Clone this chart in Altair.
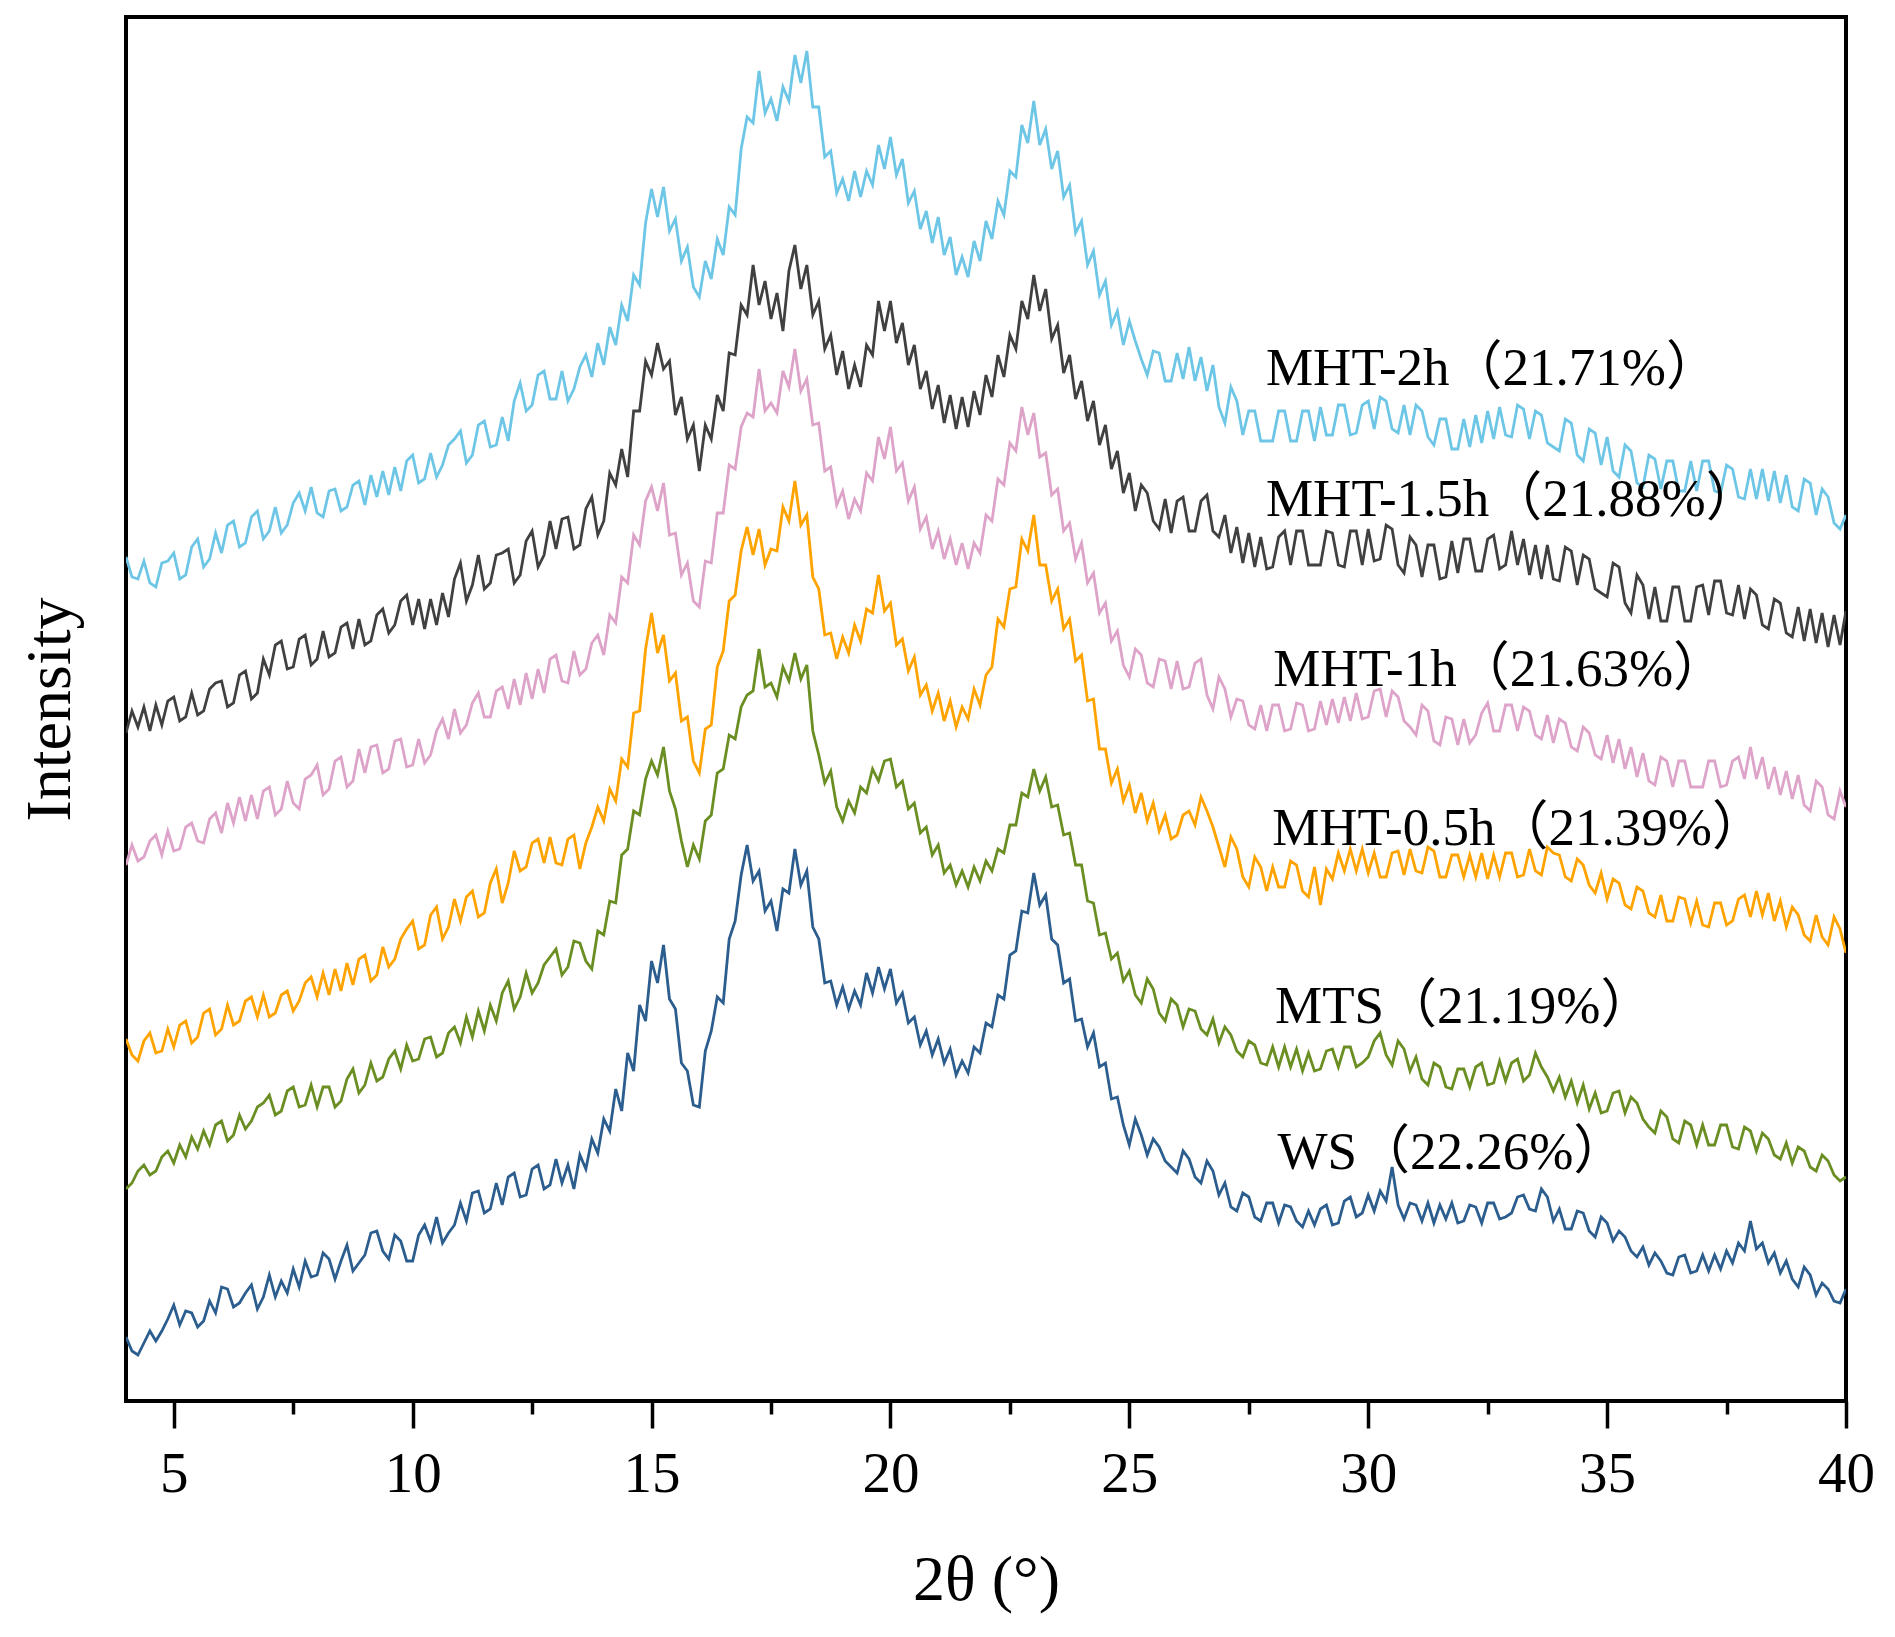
import altair as alt
import numpy as np
import pandas as pd

samples = ["WS", "MTS", "MHT-0.5h", "MHT-1h", "MHT-1.5h", "MHT-2h"]
crystallinity = ["22.26%", "21.19%", "21.39%", "21.63%", "21.88%", "21.71%"]
colors = ["#2b5d8e", "#6a8e22", "#ffa300", "#dda3c9", "#404040", "#6ec6e6"]
label_theta = [28.1, 28.05, 27.99, 28.01, 27.86, 27.86]
label_intensity = [232, 378, 556, 715, 885, 1016]
x_ticks = [5, 7.5, 10, 12.5, 15, 17.5, 20, 22.5, 25, 27.5, 30, 32.5, 35, 37.5, 40]

# intensities sampled every 0.125 deg from 4 to 40 (arbitrary units), one row per degree
ws = [
    64, 50, 46, 58, 70, 60, 70, 82,
    96, 76, 90, 88, 74, 80, 100, 88,
    114, 112, 94, 98, 108, 116, 92, 104,
    126, 104, 120, 108, 132, 114, 140, 124,
    126, 148, 142, 122, 140, 156, 130, 138,
    146, 168, 170, 150, 142, 166, 160, 140,
    140, 166, 176, 160, 184, 158, 168, 176,
    198, 180, 208, 210, 188, 192, 218, 196,
    224, 228, 204, 206, 232, 236, 212, 216,
    242, 218, 236, 212, 246, 232, 262, 248,
    282, 270, 312, 290, 348, 330, 396, 380,
    440, 418, 456, 402, 392, 338, 330, 296,
    294, 350, 370, 404, 398, 462, 480, 526,
    556, 520, 530, 490, 500, 470, 512, 508,
    552, 516, 530, 474, 462, 418, 420, 396,
    414, 392, 410, 396, 428, 408, 434, 412,
    432, 398, 408, 378, 384, 356, 370, 346,
    362, 338, 352, 326, 340, 328, 354, 348,
    378, 374, 406, 402, 446, 450, 490, 488,
    528, 496, 506, 462, 456, 418, 422, 380,
    382, 354, 368, 334, 338, 302, 304, 276,
    256, 282, 266, 246, 262, 254, 240, 234,
    228, 250, 242, 224, 218, 240, 230, 206,
    218, 194, 190, 208, 204, 184, 180, 198,
    198, 178, 196, 194, 180, 174, 190, 176,
    192, 196, 176, 178, 200, 204, 184, 188,
    206, 190, 210, 200, 234, 196, 182, 198,
    196, 180, 198, 178, 196, 182, 198, 178,
    180, 196, 194, 178, 198, 198, 182, 184,
    188, 204, 206, 192, 190, 212, 204, 180,
    192, 172, 172, 190, 188, 170, 164, 184,
    178, 160, 170, 164, 150, 144, 154, 136,
    148, 140, 128, 126, 144, 146, 128, 130,
    146, 130, 146, 132, 150, 138, 158, 150,
    180, 152, 158, 138, 148, 128, 140, 122,
    114, 134, 126, 106, 118, 112, 100, 98,
    112,
]
mts = [
    212, 218, 230, 236, 226, 230, 244, 250,
    238, 256, 244, 264, 252, 270, 256, 276,
    280, 260, 266, 286, 272, 280, 294, 298,
    306, 286, 290, 310, 314, 294, 296, 316,
    294, 314, 314, 294, 300, 322, 332, 308,
    316, 338, 320, 324, 342, 350, 332, 356,
    340, 342, 362, 364, 344, 348, 368, 374,
    358, 384, 364, 390, 370, 396, 380, 408,
    420, 392, 404, 428, 408, 418, 436, 444,
    452, 426, 434, 460, 458, 440, 432, 470,
    466, 500, 498, 546, 552, 590, 586, 622,
    640, 626, 654, 610, 592, 560, 534, 556,
    542, 580, 586, 628, 632, 666, 662, 694,
    706, 710, 752, 714, 718, 704, 734, 720,
    748, 722, 736, 670, 646, 618, 630, 594,
    580, 600, 588, 614, 608, 632, 620, 640,
    642, 614, 620, 592, 598, 568, 574, 546,
    556, 528, 536, 516, 530, 514, 534, 520,
    540, 530, 552, 548, 576, 576, 608, 604,
    632, 610, 624, 594, 596, 566, 568, 536,
    536, 500, 498, 466, 468, 442, 448, 420,
    430, 406, 398, 422, 412, 388, 380, 402,
    396, 374, 392, 390, 372, 366, 382, 358,
    374, 366, 350, 344, 360, 356, 338, 336,
    354, 334, 354, 334, 352, 330, 348, 330,
    332, 350, 352, 334, 354, 354, 334, 338,
    344, 360, 368, 346, 336, 360, 352, 330,
    344, 322, 316, 338, 334, 314, 312, 332,
    332, 314, 334, 338, 316, 318, 340, 320,
    338, 342, 320, 326, 348, 334, 324, 310,
    324, 304, 320, 298, 316, 292, 308, 288,
    290, 308, 310, 288, 304, 298, 282, 274,
    268, 290, 284, 262, 258, 280, 276, 256,
    276, 256, 256, 276, 276, 254, 252, 274,
    270, 250, 268, 262, 246, 242, 258, 238,
    254, 250, 234, 230, 246, 240, 226, 220,
    224,
]
mht05 = [
    362, 346, 340, 360, 368, 348, 350, 372,
    354, 376, 380, 358, 364, 388, 392, 366,
    372, 396, 376, 380, 400, 404, 384, 406,
    384, 388, 406, 410, 390, 400, 418, 424,
    404, 428, 406, 432, 410, 438, 416, 442,
    446, 420, 426, 454, 434, 442, 462, 472,
    480, 452, 456, 486, 494, 462, 474, 502,
    480, 504, 510, 484, 488, 518, 532, 498,
    518, 550, 530, 534, 558, 562, 538, 564,
    538, 536, 562, 566, 532, 558, 574, 594,
    580, 612, 600, 642, 634, 688, 690, 752,
    788, 748, 766, 720, 728, 680, 684, 640,
    628, 672, 676, 734, 750, 800, 806, 850,
    874, 846, 872, 836, 852, 850, 894, 880,
    920, 876, 886, 824, 812, 766, 768, 742,
    764, 748, 776, 760, 792, 788, 826, 790,
    798, 756, 762, 730, 744, 706, 716, 690,
    708, 680, 700, 674, 694, 682, 712, 696,
    726, 734, 782, 774, 812, 814, 862, 850,
    886, 836, 836, 800, 812, 772, 782, 740,
    746, 700, 702, 652, 652, 618, 632, 600,
    616, 588, 608, 580, 598, 570, 586, 562,
    566, 586, 590, 576, 604, 590, 574, 554,
    534, 564, 552, 524, 514, 544, 534, 510,
    534, 514, 514, 540, 536, 510, 504, 534,
    496, 532, 522, 548, 530, 552, 530, 552,
    528, 548, 524, 524, 548, 550, 526, 552,
    530, 528, 554, 550, 524, 524, 546, 546,
    524, 546, 524, 548, 522, 546, 524, 548,
    548, 524, 526, 552, 530, 526, 554, 548,
    546, 524, 520, 542, 536, 516, 508, 528,
    502, 522, 518, 496, 492, 514, 510, 488,
    484, 506, 480, 480, 504, 502, 478, 500,
    476, 474, 498, 498, 476, 480, 502, 506,
    484, 510, 486, 508, 480, 500, 474, 494,
    486, 466, 460, 486, 464, 456, 484, 472,
    448,
]
mht1 = [
    536, 556, 540, 544, 560, 566, 546, 570,
    550, 552, 574, 578, 560, 558, 582, 588,
    568, 598, 578, 604, 580, 606, 582, 610,
    614, 586, 592, 620, 598, 592, 622, 626,
    636, 606, 612, 640, 644, 614, 620, 652,
    628, 654, 656, 628, 632, 660, 662, 634,
    636, 662, 638, 646, 670, 682, 662, 692,
    668, 676, 698, 708, 684, 684, 710, 714,
    692, 722, 696, 728, 702, 732, 708, 742,
    746, 720, 718, 750, 726, 732, 758, 766,
    746, 786, 778, 824, 818, 866, 856, 900,
    914, 890, 918, 866, 868, 826, 838, 800,
    794, 840, 838, 888, 888, 936, 932, 974,
    988, 984, 1032, 990, 998, 988, 1030, 1014,
    1052, 1010, 1022, 976, 978, 930, 934, 896,
    910, 882, 902, 890, 928, 920, 964, 942,
    974, 930, 938, 900, 914, 872, 884, 852,
    870, 842, 862, 836, 858, 832, 858, 848,
    886, 880, 922, 916, 958, 950, 994, 966,
    988, 944, 948, 906, 912, 870, 878, 842,
    858, 818, 828, 788, 798, 760, 770, 736,
    724, 752, 746, 718, 714, 742, 740, 712,
    740, 712, 714, 738, 742, 706, 692, 724,
    712, 684, 702, 700, 676, 672, 696, 670,
    696, 696, 670, 672, 698, 696, 670, 672,
    700, 676, 702, 678, 704, 680, 708, 682,
    684, 710, 712, 684, 710, 704, 680, 674,
    666, 696, 690, 660, 656, 684, 682, 656,
    682, 658, 666, 688, 698, 670, 670, 696,
    696, 670, 694, 690, 666, 662, 686, 658,
    682, 678, 654, 650, 674, 668, 646, 642,
    666, 638, 662, 632, 654, 624, 648, 620,
    616, 644, 640, 614, 640, 640, 614, 614,
    614, 640, 640, 614, 616, 640, 644, 622,
    654, 622, 644, 612, 634, 606, 630, 602,
    626, 596, 590, 620, 614, 586, 582, 610,
    594,
]
mht15 = [
    668, 690, 674, 694, 670, 696, 676, 700,
    704, 680, 684, 708, 686, 690, 712, 718,
    720, 694, 698, 726, 730, 702, 708, 742,
    726, 756, 760, 732, 734, 762, 766, 736,
    742, 770, 744, 748, 774, 778, 752, 782,
    756, 760, 786, 792, 768, 776, 800, 806,
    776, 802, 772, 802, 776, 808, 784, 822,
    838, 800, 816, 846, 812, 818, 846, 848,
    852, 818, 826, 860, 870, 834, 846, 880,
    852, 882, 884, 852, 856, 892, 904, 866,
    880, 928, 916, 952, 924, 990, 990, 1040,
    1026, 1058, 1032, 1040, 986, 1004, 962, 976,
    930, 976, 962, 1006, 990, 1048, 1046, 1096,
    1086, 1136, 1096, 1120, 1082, 1108, 1070, 1130,
    1156, 1112, 1136, 1086, 1100, 1052, 1066, 1026,
    1050, 1012, 1036, 1014, 1056, 1046, 1100, 1070,
    1100, 1058, 1078, 1036, 1056, 1012, 1030, 992,
    1016, 978, 1006, 972, 1004, 974, 1010, 986,
    1026, 1004, 1046, 1024, 1066, 1052, 1100, 1082,
    1126, 1090, 1112, 1062, 1076, 1028, 1046, 1002,
    1020, 980, 1000, 956, 976, 932, 950, 908,
    928, 890, 916, 908, 880, 872, 902, 868,
    900, 904, 870, 870, 900, 906, 870, 864,
    886, 848, 874, 838, 868, 834, 864, 832,
    834, 864, 870, 836, 870, 870, 836, 836,
    836, 870, 868, 836, 834, 870, 870, 836,
    872, 840, 842, 876, 872, 836, 828, 864,
    856, 824, 856, 856, 822, 824, 860, 828,
    862, 862, 830, 830, 862, 866, 832, 836,
    870, 836, 862, 826, 856, 822, 856, 822,
    820, 854, 850, 816, 846, 842, 812, 808,
    804, 838, 834, 798, 788, 826, 816, 782,
    814, 780, 780, 814, 814, 780, 780, 814,
    816, 786, 820, 820, 788, 786, 816, 782,
    812, 806, 776, 772, 802, 798, 768, 764,
    794, 760, 792, 758, 788, 754, 786, 756,
    790,
]
mht2 = [
    844, 824, 822, 840, 818, 814, 838, 840,
    848, 822, 826, 854, 862, 834, 842, 868,
    848, 876, 880, 854, 858, 884, 890, 862,
    870, 894, 868, 876, 898, 908, 890, 914,
    888, 884, 910, 912, 890, 894, 916, 920,
    896, 926, 904, 930, 906, 934, 910, 940,
    946, 918, 922, 948, 924, 936, 956, 962,
    970, 938, 946, 976, 980, 954, 956, 984,
    960, 1000, 1018, 990, 996, 1026, 1030, 1002,
    1002, 1030, 1000, 1012, 1034, 1046, 1024, 1058,
    1036, 1074, 1056, 1096, 1080, 1126, 1116, 1178,
    1212, 1184, 1214, 1170, 1182, 1140, 1154, 1114,
    1104, 1140, 1122, 1162, 1146, 1194, 1186, 1252,
    1284, 1278, 1330, 1288, 1302, 1280, 1314, 1300,
    1346, 1318, 1350, 1294, 1294, 1244, 1250, 1208,
    1222, 1200, 1230, 1204, 1230, 1216, 1256, 1232,
    1264, 1226, 1242, 1198, 1210, 1172, 1190, 1158,
    1184, 1146, 1164, 1126, 1144, 1124, 1160, 1140,
    1180, 1162, 1200, 1186, 1230, 1224, 1276, 1258,
    1300, 1256, 1272, 1232, 1250, 1204, 1216, 1168,
    1180, 1136, 1150, 1106, 1120, 1076, 1090, 1056,
    1080, 1060, 1042, 1026, 1050, 1048, 1020, 1020,
    1048, 1022, 1054, 1020, 1044, 1010, 1036, 994,
    978, 1014, 1000, 966, 990, 990, 960, 960,
    960, 990, 990, 960, 960, 990, 990, 960,
    994, 966, 966, 996, 996, 966, 968, 996,
    1000, 972, 1004, 1000, 972, 968, 996, 966,
    996, 990, 964, 956, 982, 982, 952, 952,
    982, 954, 986, 958, 990, 962, 994, 966,
    964, 996, 992, 962, 990, 986, 958, 954,
    950, 982, 978, 946, 940, 972, 968, 936,
    964, 930, 924, 956, 950, 918, 914, 946,
    942, 912, 940, 940, 910, 910, 940, 910,
    940, 940, 910, 908, 936, 932, 904, 902,
    932, 902, 932, 900, 930, 898, 926, 894,
    890, 922, 918, 886, 912, 904, 878, 872,
    886,
]

series = [ws, mts, mht05, mht1, mht15, mht2]

rows = []
for name, vals in zip(samples, series):
    thetas = np.linspace(4, 40, len(vals))
    for t, v in zip(thetas, vals):
        rows.append({"theta": float(t), "intensity": v, "sample": name})
df = pd.DataFrame(rows)

labels_df = pd.DataFrame({
    "theta": label_theta,
    "intensity": label_intensity,
    "text": [f"{s}（{c}）" for s, c in zip(samples, crystallinity)],
})

serif = "Liberation Serif, Noto Sans CJK SC"

x_scale = alt.Scale(domain=[4, 40], nice=False, zero=False)
y_scale = alt.Scale(domain=[0, 1384], nice=False, zero=False)

x_axis = alt.Axis(
    title="2θ (°)",
    values=x_ticks,
    labelExpr="datum.value % 5 === 0 ? datum.label : ''",
    tickSize={"condition": {"test": "datum.value % 5 === 0", "value": 27}, "value": 13},
    tickWidth=3.5,
    tickColor="black",
    domain=False,
    grid=False,
    labelFont=serif,
    labelFontSize=57,
    labelColor="black",
    labelPadding=18,
    labelFlush=False,
    labelOverlap=False,
    titleFont=serif,
    titleFontSize=64,
    titleFontWeight="normal",
    titleColor="black",
    titlePadding=46,
)
y_axis = alt.Axis(
    title="Intensity",
    labels=False,
    ticks=False,
    domain=False,
    grid=False,
    titleFont=serif,
    titleFontSize=64,
    titleFontWeight="normal",
    titleColor="black",
    titlePadding=44,
)

lines = alt.Chart(df).mark_line(strokeWidth=2.8, clip=True).encode(
    x=alt.X("theta:Q", scale=x_scale, axis=x_axis),
    y=alt.Y("intensity:Q", scale=y_scale, axis=y_axis),
    color=alt.Color("sample:N", scale=alt.Scale(domain=samples, range=colors), legend=None),
    detail="sample:N",
)

texts = alt.Chart(labels_df).mark_text(
    align="left", baseline="alphabetic", font=serif, fontSize=53, color="black"
).encode(
    x=alt.X("theta:Q", scale=x_scale),
    y=alt.Y("intensity:Q", scale=y_scale),
    text="text:N",
)

chart = alt.layer(lines, texts).properties(
    width=1720,
    height=1384,
    autosize=alt.AutoSizeParams(type="none"),
    padding={"left": 118, "top": 9, "right": 40, "bottom": 230},
).configure_view(stroke="black", strokeWidth=4)

chart.save("out.html", embed_options={"renderer": "svg", "actions": False})
